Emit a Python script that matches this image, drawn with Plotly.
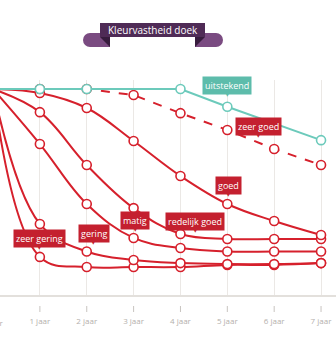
import plotly.graph_objects as go

W, H = 336, 350
ML, MR, MT, MB = 0, 0, 80, 55

years = [0, 1, 2, 3, 4, 5, 6, 7]
year_labels = ["0 jaar", "1 jaar", "2 jaar", "3 jaar", "4 jaar", "5 jaar", "6 jaar", "7 jaar"]

uitstekend_x = [0, 1, 2, 4, 5, 7]
uitstekend = [100, 100, 100, 100, 91.4, 75.2]
zeer_goed = [100, 100, 100, 97.1, 88.3, 80.1, 70.9, 63.1]
goed = [100, 98.1, 90.8, 74.8, 57.8, 44.2, 35.9, 29.1]
redelijk_goed = [100, 88.8, 63.1, 42.2, 29.6, 27.2, 27.2, 27.2]
matig = [100, 73.3, 44.2, 27.7, 22.8, 21.1, 21.1, 21.1]
gering = [100, 34.5, 21.1, 17.0, 15.5, 15.0, 15.0, 15.5]
zeer_gering = [100, 18.5, 13.6, 13.6, 13.6, 14.6, 14.6, 15.5]

label_text = ["uitstekend", "zeer goed", "goed", "redelijk goed", "matig", "gering", "zeer gering"]
label_x = [5.0, 5.66, 5.02, 4.32, 3.04, 2.15, 1.0]
label_y = [101.5, 82.0, 53.4, 35.9, 36.4, 30.1, 27.2]

RED = "#d6202c"
RED_BOX = "#c4202f"
TEAL = "#6ccabb"
TEAL_BOX = "#5dbcab"

fig = go.Figure()

def add_series(x, y, color, dash="solid", shape="spline"):
    fig.add_trace(go.Scatter(
        x=x, y=y, mode="lines+markers",
        line=dict(color=color, width=2, dash=dash, shape=shape, smoothing=1.1),
        marker=dict(size=9, color="white", line=dict(color=color, width=1.6)),
        cliponaxis=False, hoverinfo="skip", showlegend=False,
    ))

add_series(years, zeer_gering, RED)
add_series(years, gering, RED)
add_series(years, matig, RED)
add_series(years, redelijk_goed, RED)
add_series(years, goed, RED)
add_series(years, zeer_goed, RED, dash="dash", shape="linear")
add_series(uitstekend_x, uitstekend, TEAL, shape="linear")

annotations = []
for i, t in enumerate(label_text):
    c = TEAL_BOX if i == 0 else RED_BOX
    annotations.append(dict(x=label_x[i], y=label_y[i], xref="x", yref="y", text=t,
                            showarrow=False, bgcolor=c, borderpad=2,
                            font=dict(family="Open Sans", size=9, color="white")))
    annotations.append(dict(x=label_x[i], y=label_y[i], xref="x", yref="y", text="▼",
                            showarrow=False, yshift=-8,
                            font=dict(family="DejaVu Sans", size=6, color=c)))

def px(x):
    return (x - ML) / (W - ML - MR)

def py(y):
    return (H - MB - y) / (H - MT - MB)

# "0 jaar" label (off the left edge)
annotations.append(dict(x=px(-7), y=py(322), xref="paper", yref="paper", text=year_labels[0],
                        xanchor="center", yanchor="middle",
                        showarrow=False, font=dict(family="Open Sans", size=8, color="#b4b0ac")))

# title banner
annotations.append(dict(x=px(152.5), y=py(30), xref="paper", yref="paper", text="Kleurvastheid doek",
                        xanchor="center", yanchor="middle",
                        showarrow=False, font=dict(family="Open Sans", size=10, color="white")))

shapes = []
def path(pts, color):
    d = "M " + " L ".join(f"{px(a)},{py(b)}" for a, b in pts) + " Z"
    shapes.append(dict(type="path", path=d, xref="paper", yref="paper",
                       fillcolor=color, line=dict(width=0), layer="below"))

LIGHT_P = "#7a4b81"
DARK_P = "#4f2b56"
FOLD_P = "#371c3d"
# left pill (rounded left end)
shapes.append(dict(type="circle", xref="paper", yref="paper", x0=px(83), x1=px(97), y0=py(47), y1=py(33),
                   fillcolor=LIGHT_P, line=dict(width=0), layer="below"))
path([(90, 33), (110, 33), (110, 47), (90, 47)], LIGHT_P)
# right pill
shapes.append(dict(type="circle", xref="paper", yref="paper", x0=px(209), x1=px(223), y0=py(47), y1=py(33),
                   fillcolor=LIGHT_P, line=dict(width=0), layer="below"))
path([(195, 33), (216, 33), (216, 47), (195, 47)], LIGHT_P)
# folds
path([(100, 37), (110, 37), (110, 47)], FOLD_P)
path([(195, 37), (205, 37), (195, 47)], FOLD_P)
# main band
path([(100, 23), (205, 23), (205, 37), (100, 37)], DARK_P)

# tick marks below the baseline
for v in years[1:]:
    shapes.append(dict(type="line", xref="x", yref="paper", x0=v, x1=v, y0=py(306), y1=py(312),
                       line=dict(color="#c8c4c0", width=1)))

fig.update_layout(
    width=W, height=H,
    margin=dict(l=ML, r=MR, t=MT, b=MB),
    paper_bgcolor="white", plot_bgcolor="rgba(0,0,0,0)",
    annotations=annotations, shapes=shapes,
    xaxis=dict(range=[7 / 47, 7 + 15 / 47], tickvals=years, ticktext=year_labels,
               showgrid=True, gridcolor="#ebe8e5", gridwidth=1, zeroline=False,
               showline=True, linecolor="#e3e0dc", linewidth=2,
               ticks="", ticklabelstandoff=17,
               tickfont=dict(family="Open Sans", size=8, color="#b4b0ac")),
    yaxis=dict(range=[0, 104.4], showgrid=False, zeroline=False, showticklabels=False,
               showline=False),
)

fig.write_html("out.html")
